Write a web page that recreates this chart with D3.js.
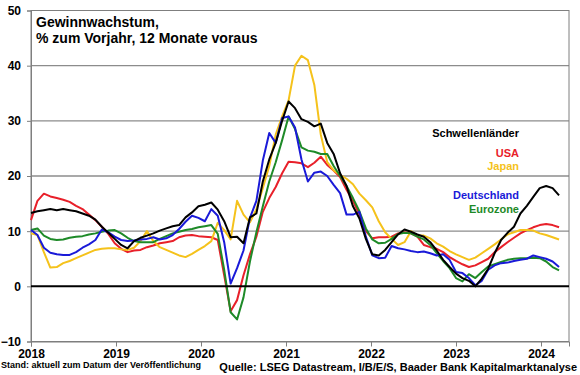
<!DOCTYPE html>
<html><head><meta charset="utf-8">
<script src="https://cdn.jsdelivr.net/npm/d3@7"></script>
<style>body{margin:0;background:#fff}svg{display:block}text{font-family:"Liberation Sans",Arial,sans-serif}</style>
</head><body><svg id="c" width="580" height="375"></svg>
<script>
// sampling: every ~4 weeks from Jan 2018
const step = 0.07576;
const dates = d3.range(83).map(i => 2018 + i * step);
const yearTicks = [2018, 2019, 2020, 2021, 2022, 2023, 2024];
const yTicks = [-10, 0, 10, 20, 30, 40, 50];

const schwellenlaender = [13.3,13.6,13.8,14.0,13.8,14.0,13.8,13.6,13.2,12.8,12.1,10.8,9.7,8.6,7.5,6.9,8.2,8.8,9.2,9.6,10.1,10.5,10.9,11.1,12.5,13.4,14.5,14.8,15.2,13.9,11.8,8.9,9.0,7.8,12.5,13.2,19.0,23.0,26.0,30.0,33.5,32.3,30.3,29.8,29.0,29.5,26.0,24.0,20.5,18.2,14.5,12.3,8.6,5.8,5.6,6.6,8.0,9.4,10.3,9.9,9.4,9.0,8.0,6.5,4.8,3.5,2.3,1.5,1.0,0.0,1.4,3.2,6.0,8.4,9.7,10.8,13.2,14.6,16.2,17.8,18.2,17.8,16.5];
const usa = [12.0,15.5,16.8,16.3,16.0,15.7,15.3,14.6,14.0,13.0,12.0,10.8,9.5,7.8,6.8,6.2,6.5,6.6,7.1,7.4,7.8,8.0,8.2,8.9,9.2,9.3,9.1,9.0,8.9,8.4,2.0,-4.5,-2.5,2.0,5.8,9.0,13.5,16.0,18.0,20.5,22.6,22.5,22.3,21.6,22.4,23.5,22.0,21.0,19.8,17.5,15.5,13.0,10.0,8.7,8.9,8.9,9.0,9.6,9.8,9.6,9.0,7.5,7.1,6.8,6.2,5.3,4.6,4.0,3.5,3.8,4.4,5.0,6.2,7.1,8.0,8.8,9.6,10.2,10.7,11.1,11.3,11.1,10.7];
const japan = [9.6,9.3,6.2,3.4,3.5,4.2,4.6,5.1,5.6,6.1,6.6,6.8,6.9,6.9,6.7,6.6,7.0,8.2,10.0,8.2,7.1,6.6,6.1,5.6,5.3,5.9,6.6,7.3,8.2,11.5,10.2,8.5,15.5,13.0,11.6,14.0,17.8,21.8,27.5,30.8,33.7,40.0,41.8,41.0,36.5,27.5,22.5,21.0,20.2,19.5,18.5,16.8,15.6,14.3,11.8,9.8,8.6,7.5,8.0,10.0,9.2,9.2,8.7,7.8,7.2,6.4,5.8,5.3,4.8,5.2,6.0,6.8,7.6,8.5,9.4,9.8,10.2,10.2,10.1,9.6,9.3,8.9,8.5];
const deutschland = [10.2,9.3,7.0,6.1,5.8,5.7,5.7,6.2,7.0,7.6,8.4,10.3,9.8,9.0,8.4,8.2,8.3,8.5,8.6,8.9,8.5,8.7,9.3,10.4,11.7,12.8,12.4,11.8,14.0,12.8,8.0,0.5,3.3,6.5,12.4,15.5,22.8,27.8,26.0,30.5,30.8,28.8,23.0,19.0,20.6,20.8,20.0,18.4,16.9,13.0,13.0,13.5,9.0,5.6,5.1,5.2,7.3,6.9,6.7,6.4,6.2,6.3,6.0,5.6,5.8,4.8,2.6,2.4,1.5,0.2,1.0,3.0,3.8,4.2,4.3,4.6,4.8,5.0,5.6,5.3,5.0,4.5,3.5];
const eurozone = [10.2,10.5,9.2,8.6,8.4,8.5,8.8,9.0,9.1,9.4,9.6,9.9,10.1,10.2,9.6,8.8,8.2,8.0,8.0,8.0,8.6,9.1,9.6,9.9,10.2,10.4,10.7,10.9,11.1,9.5,3.0,-4.7,-6.0,-2.0,4.5,9.8,14.5,19.0,22.5,26.5,30.8,28.5,25.2,24.6,24.4,24.0,24.0,21.8,20.0,18.2,16.0,13.6,10.5,8.5,7.8,7.9,8.6,9.5,9.7,9.6,9.0,8.5,7.5,6.0,4.6,3.3,1.5,0.9,2.2,1.5,2.6,3.6,4.0,4.4,4.8,5.0,5.1,5.1,5.2,5.1,4.5,3.5,2.9];

const seriesNames = ["USA", "Japan", "Eurozone", "Deutschland", "Schwellenländer"];
const seriesValues = [usa, japan, eurozone, deutschland, schwellenlaender];
const seriesColors = ["#e8202a", "#f5c21b", "#1e8a28", "#1a1ad8", "#000000"];

const svg = d3.select("#c");
const L = 31, R = 569, T = 10.5, B = 341.5;
const x = d3.scaleLinear().domain([2018, 2018 + (R - L) / 85]).range([L, R]);
const y = d3.scaleLinear().domain([-10, 50]).range([B, T]);

// gridlines
svg.append("g").selectAll("line").data(yTicks.filter(v => v > -10 && v < 50 && v !== 0)).join("line")
  .attr("x1", L).attr("x2", R).attr("y1", d => y(d)).attr("y2", d => y(d))
  .attr("stroke", "#8c8c8c").attr("stroke-width", 1.3);

// frame
svg.append("rect").attr("x", L).attr("y", T).attr("width", R - L).attr("height", B - T)
  .attr("fill", "none").attr("stroke", "#7f7f7f").attr("stroke-width", 1);

// y axis
const yAxis = d3.axisLeft(y).tickValues(yTicks).tickSize(4).tickPadding(6).tickFormat(d3.format("d"));
svg.append("g").attr("transform", `translate(${L},0)`).call(yAxis)
  .call(g => g.select(".domain").attr("stroke", "#7f7f7f"))
  .call(g => g.selectAll(".tick line").attr("stroke", "#7f7f7f"))
  .call(g => g.selectAll("text").attr("font-size", 12).attr("font-weight", "bold").attr("fill", "#000")
    .attr("font-family", "Liberation Sans, Arial, sans-serif"));

// x axis
const xAxis = d3.axisBottom(x).tickValues(yearTicks).tickSize(5).tickPadding(3).tickFormat(d3.format("d"));
svg.append("g").attr("transform", `translate(0,${B})`).call(xAxis)
  .call(g => g.select(".domain").attr("stroke", "#7f7f7f"))
  .call(g => g.selectAll(".tick line").attr("stroke", "#7f7f7f"))
  .call(g => g.selectAll("text").attr("font-size", 12).attr("font-weight", "bold").attr("fill", "#000")
    .attr("font-family", "Liberation Sans, Arial, sans-serif"));

// series
const line = d3.line().x((d, i) => x(dates[i])).y(d => y(d));
seriesValues.forEach((vals, k) => {
  svg.append("path").datum(vals).attr("d", line).attr("fill", "none")
    .attr("stroke", seriesColors[k]).attr("stroke-width", 2).attr("stroke-linejoin", "round");
});

// zero line
svg.append("line").attr("x1", L).attr("x2", R).attr("y1", y(0)).attr("y2", y(0))
  .attr("stroke", "#000").attr("stroke-width", 2);

// title
const title = svg.append("text").attr("x", 36).attr("font-size", 14).attr("font-weight", "bold");
title.append("tspan").attr("x", 36).attr("y", 27).text("Gewinnwachstum,");
title.append("tspan").attr("x", 36).attr("y", 43).text("% zum Vorjahr, 12 Monate voraus");

// legend labels
const legend = [
  ["Schwellenländer", "#000000", 137],
  ["USA", "#e8202a", 157],
  ["Japan", "#f5c21b", 170],
  ["Deutschland", "#1a1ad8", 199],
  ["Eurozone", "#1e8a28", 213]
];
svg.append("g").selectAll("text").data(legend).join("text")
  .attr("x", 519).attr("y", d => d[2]).attr("text-anchor", "end")
  .attr("font-size", 11).attr("font-weight", "bold").attr("fill", d => d[1]).text(d => d[0]);

// footer
svg.append("text").attr("x", 1).attr("y", 368).attr("font-size", 9).attr("font-weight", "bold")
  .text("Stand: aktuell zum Datum der Veröffentlichung");
svg.append("text").attr("x", 577).attr("y", 371).attr("text-anchor", "end").attr("font-size", 11).attr("font-weight", "bold")
  .text("Quelle: LSEG Datastream, I/B/E/S, Baader Bank Kapitalmarktanalyse");
</script></body></html>
